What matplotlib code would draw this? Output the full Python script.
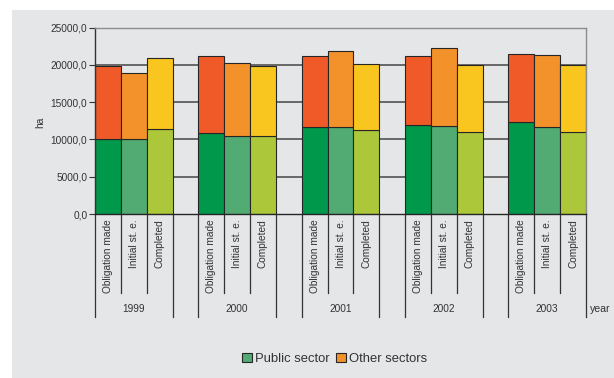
import numpy as np
import matplotlib.pyplot as plt
from matplotlib.patches import Patch, Rectangle
from matplotlib.lines import Line2D

plt.rcParams['font.family'] = ['Liberation Sans', 'DejaVu Sans']

years = ['1999', '2000', '2001', '2002', '2003']
stages = ['Obligation made', 'Initial st. e.', 'Completed']

# hectares by sector, one list per stage (one value per year)
public_obligation = [10000, 10800, 11600, 11900, 12300]
public_initial = [10000, 10500, 11600, 11800, 11700]
public_completed = [11400, 10500, 11200, 11000, 11000]
other_obligation = [9800, 10400, 9600, 9300, 9100]
other_initial = [8900, 9700, 10300, 10500, 9600]
other_completed = [9500, 9400, 8900, 9000, 9000]

y_ticks = [0, 5000, 10000, 15000, 20000, 25000]
y_tick_labels = ['0,0', '5000,0', '10000,0', '15000,0', '20000,0', '25000,0']

public = [public_obligation, public_initial, public_completed]
other = [other_obligation, other_initial, other_completed]
public_colors = ['#00984a', '#52ab72', '#acc83a']
other_colors = ['#f05a28', '#f3922a', '#f9c51f']

panel = '#e5e6e8'
W, H = 614, 378
fig = plt.figure(figsize=(W / 100, H / 100), dpi=100, facecolor='white')
fig.patches.append(Rectangle((12 / W, 0), 1, (H - 10) / H, transform=fig.transFigure,
                             facecolor=panel, edgecolor='none', zorder=-10))

ax_l, ax_r, ax_b, ax_t = 95, 586, 214, 27.5
ax = fig.add_axes([ax_l / W, (H - ax_b) / H, (ax_r - ax_l) / W, (ax_b - ax_t) / H])
ax.set_facecolor(panel)

# 3 bars per year plus one empty slot between years
n_slots = len(years) * 4 - 1
ax.set_xlim(0, n_slots)
ax.set_ylim(0, 25000)

for v in y_ticks[1:-1]:
    ax.axhline(v, color='#454545', lw=1.1, zorder=1)

for s in range(len(stages)):
    xs = np.arange(len(years)) * 4 + s + 0.5
    ax.bar(xs, public[s], width=1, color=public_colors[s], edgecolor='#262626', lw=0.8, zorder=2)
    ax.bar(xs, other[s], width=1, bottom=public[s], color=other_colors[s],
           edgecolor='#262626', lw=0.8, zorder=2)

ax.spines['left'].set_color('#333333')
ax.spines['bottom'].set_color('#262626')
ax.spines['top'].set_color('#8c8c8c')
ax.spines['right'].set_color('#8c8c8c')
for sp in ax.spines.values():
    sp.set_linewidth(1)

ax.set_yticks(y_ticks)
ax.set_yticklabels(y_tick_labels, fontsize=7.3, color='#333333')
ax.tick_params(axis='y', length=4, width=0.8, color='#333333', pad=1.5)
ax.set_xticks([])
fig.text(40 / W, (H - 122) / H, 'ha', rotation=90, ha='center', va='center',
         fontsize=7.3, color='#333333')

# two-level category axis below the bars
ah = ax_b - ax_t
short_end = -(293 - ax_b) / ah
long_end = -(317 - ax_b) / ah
trans = ax.get_xaxis_transform()
for g, yr in enumerate(years):
    x0 = g * 4
    for s, name in enumerate(stages):
        ax.text(x0 + s + 0.5, -5 / ah, name, rotation=90, ha='center', va='top',
                fontsize=7.3, color='#333333', transform=trans)
    for k in (1, 2):
        ax.add_line(Line2D([x0 + k, x0 + k], [0, short_end], transform=trans,
                           color='#333333', lw=0.9, clip_on=False))
    for k in (0, 3):
        ax.add_line(Line2D([x0 + k, x0 + k], [0, long_end], transform=trans,
                           color='#333333', lw=0.9, clip_on=False))
    ax.text(x0 + 1.5, -(309 - ax_b) / ah, yr, ha='center', va='center',
            fontsize=7.3, color='#333333', transform=trans)

fig.text(590 / W, (H - 309) / H, 'year', ha='left', va='center', fontsize=7.6, color='#333333')

handles = [Patch(facecolor='#52ab72', edgecolor='#262626', lw=0.8),
           Patch(facecolor='#f3922a', edgecolor='#262626', lw=0.8)]
fig.legend(handles, ['Public sector', 'Other sectors'], loc='center',
           bbox_to_anchor=(334.5 / W, (H - 359) / H), ncol=2, frameon=False,
           fontsize=9.4, handlelength=0.75, handleheight=0.75, handletextpad=0.25,
           columnspacing=0.5, labelcolor='#333333')

fig.savefig('out.png', dpi=100, facecolor=fig.get_facecolor())
